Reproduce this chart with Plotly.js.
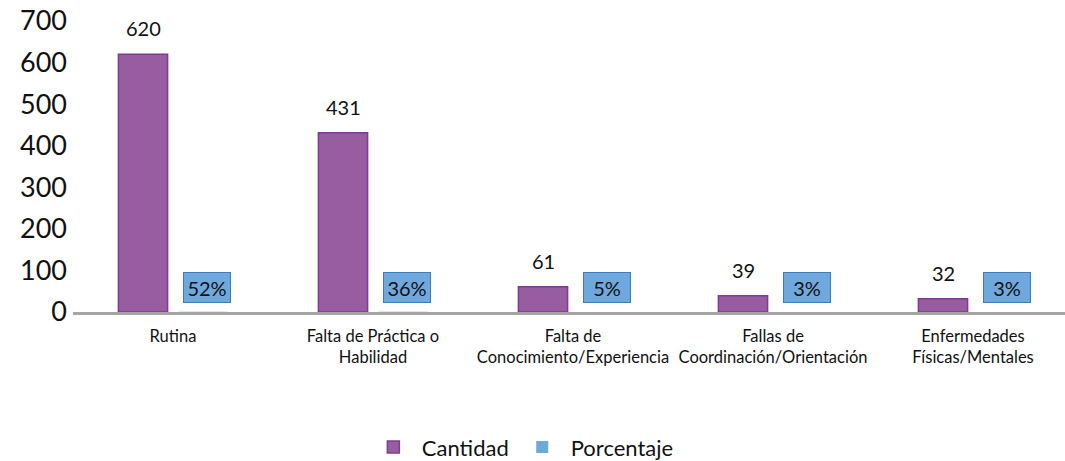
<!DOCTYPE html>
<html>
<head>
<meta charset="utf-8">
<script src="https://cdn.plot.ly/plotly-3.0.1.min.js"></script>
<style>html,body{margin:0;padding:0;background:#fff;}#chart{width:1065px;height:461px;}</style>
</head>
<body>
<div id="chart"></div>
<script>
var categories = ["Rutina", "Falta de Práctica o<br>Habilidad", "Falta de<br>Conocimiento/Experiencia", "Fallas de<br>Coordinación/Orientación", "Enfermedades<br>Físicas/Mentales"];
var cantidad = [620, 431, 61, 39, 32];
var porcentaje = [52, 36, 5, 3, 3];
var seriesNames = ["Cantidad", "Porcentaje"];
var yTicks = [0, 100, 200, 300, 400, 500, 600, 700];

var purple = "#985DA1", purpleLine = "#7D3C8F";
var blue = "#6FA8DC", blueLine = "#3A7CBF";
var txtFont = "Lato, 'Open Sans', sans-serif";

var traces = [
  {type: "bar", name: seriesNames[0], x: categories, y: cantidad,
   marker: {color: purple, line: {color: purpleLine, width: 1.5}}, hoverinfo: "skip"},
  {type: "bar", name: seriesNames[1], x: categories, y: porcentaje.map(function(p){return p/100;}),
   marker: {color: blue, line: {color: blueLine, width: 0}}, hoverinfo: "skip"}
];

var annotations = [];
categories.forEach(function(c, i){
  annotations.push({x: c, y: cantidad[i], xref: "x", yref: "y", text: String(cantidad[i]),
    showarrow: false, xshift: -30, yshift: 26, yanchor: "middle",
    font: {family: txtFont, size: 20, color: "#111"}});
  annotations.push({x: c, y: porcentaje[i]/100, xref: "x", yref: "y", text: porcentaje[i] + "%",
    showarrow: false, xshift: 34, yshift: 24, yanchor: "middle",
    width: 46, height: 29, borderpad: 0, borderwidth: 1,
    bgcolor: blue, bordercolor: blueLine,
    font: {family: txtFont, size: 20, color: "#111"}});
});

var layout = {
  width: 1065, height: 461,
  margin: {l: 73, r: 0, t: 21, b: 149},
  paper_bgcolor: "#fff", plot_bgcolor: "#fff",
  barmode: "group", bargap: 0.4, bargroupgap: 0.18,
  xaxis: {type: "category", range: [-0.5, 4.46], showgrid: false, zeroline: false,
    showline: true, linecolor: "#A6A6A6", linewidth: 3, ticks: "",
    tickfont: {family: txtFont, size: 16.5, color: "#111"}, ticklabelstandoff: 7},
  yaxis: {range: [0, 700], tickvals: yTicks, ticktext: yTicks.map(String), showgrid: false, zeroline: false,
    showline: false, ticks: "", tickfont: {family: txtFont, size: 27, color: "#111"}, ticklabelstandoff: 5},
  showlegend: true,
  legend: {orientation: "h", xref: "container", yref: "container", x: 0.49, xanchor: "center",
    y: 0.03, yanchor: "middle", font: {family: txtFont, size: 22, color: "#111"}, itemwidth: 47},
  annotations: annotations
};

Plotly.newPlot("chart", traces, layout, {displayModeBar: false, staticPlot: true});
</script>
</body>
</html>
